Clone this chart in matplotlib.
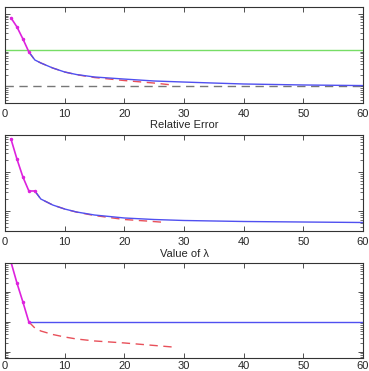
import numpy as np
import matplotlib.pyplot as plt

plt.rcParams['font.family'] = ['Liberation Sans', 'DejaVu Sans']

# --- panel 1 (error) ---
x1_init = [1, 2, 3, 4]
y1_init = [0.774, 0.435, 0.202, 0.088]
x1_blue = [4, 5, 6, 8, 10, 12, 15, 20, 25, 30, 35, 40, 50, 60]
y1_blue = [0.088, 0.0528, 0.0436, 0.0316, 0.0245, 0.0208, 0.0178, 0.0156,
           0.0138, 0.0129, 0.0121, 0.0114, 0.0107, 0.0103]
x1_red = [4, 5, 6, 8, 10, 12, 15, 20, 25, 28]
y1_red = [0.088, 0.0528, 0.0436, 0.0316, 0.0245, 0.0206, 0.0172, 0.0142,
          0.0121, 0.0107]
green_level = 0.1
target_level = 0.01

# --- panel 2 (relative error) ---
x2_init = [1, 2, 3, 4, 5]
y2_init = [7.02, 2.15, 0.745, 0.326, 0.326]
x2_blue = [5, 6, 8, 10, 12, 15, 20, 25, 30, 40, 50, 60]
y2_blue = [0.326, 0.203, 0.1425, 0.1125, 0.0943, 0.0789, 0.0662, 0.0605,
           0.0571, 0.0538, 0.0522, 0.0507]
x2_red = [5, 6, 8, 10, 12, 15, 20, 24, 27]
y2_red = [0.326, 0.203, 0.1425, 0.1125, 0.0935, 0.0765, 0.0605, 0.055, 0.0507]

# --- panel 3 (value of lambda) ---
x3_init = [1, 2, 3, 4]
y3_init = [1.0, 0.1995, 0.0464, 0.01]
x3_blue = [4, 60]
y3_blue = [0.01, 0.01]
x3_red = [4, 5, 6, 8, 10, 12, 15, 20, 25, 28]
y3_red = [0.01, 0.00631, 0.00501, 0.00383, 0.00316, 0.00271, 0.00233,
          0.002, 0.00165, 0.00147]

xticks = [0, 10, 20, 30, 40, 50, 60]

fig = plt.figure(figsize=(3.69, 3.71), dpi=100)
W, H = 369, 371
left, right = 5, 363
boxes = [(7, 103), (135, 231), (263, 358)]
ylims = [(10 ** -2.47, 10 ** 0.19), (0.0307, 8.89), (0.00063, 0.926)]
pads = [4.0, 4.0, 2.0]

axes = []
for (top, bot), yl, pd in zip(boxes, ylims, pads):
    ax = fig.add_axes([left / W, 1 - bot / H, (right - left) / W, (bot - top) / H])
    ax.set_yscale('log')
    ax.set_xlim(0, 60)
    ax.set_ylim(*yl)
    ax.set_xticks(xticks)
    ax.tick_params(which='both', direction='in', top=True, right=True,
                   labelsize=8, colors='#333333', labelcolor='#262626')
    ax.tick_params(which='major', length=3.5, width=0.6)
    ax.tick_params(which='minor', length=2, width=0.5)
    ax.tick_params(axis='y', which='both', labelleft=False)
    ax.tick_params(axis='x', pad=pd)
    for s in ax.spines.values():
        s.set_color('#333333')
        s.set_linewidth(0.8)
    axes.append(ax)

blue = '#5050f0'
red = '#e8505a'
mag = '#dd22dd'
dash = (0, (6, 4))

ax = axes[0]
ax.axhline(green_level, color='#77dd66', lw=1)
ax.axhline(target_level, color='#777777', lw=1, ls=dash)
ax.plot(x1_red, y1_red, color=red, lw=1, ls=dash)
ax.plot(x1_blue, y1_blue, color=blue, lw=1)
ax.plot(x1_init, y1_init, color=mag, lw=1.2, marker='.', ms=3)

ax = axes[1]
ax.plot(x2_red, y2_red, color=red, lw=1, ls=dash)
ax.plot(x2_blue, y2_blue, color=blue, lw=1)
ax.plot(x2_init, y2_init, color=mag, lw=1.2, marker='.', ms=3)

ax = axes[2]
ax.plot(x3_red, y3_red, color=red, lw=1, ls=dash)
ax.plot(x3_blue, y3_blue, color=blue, lw=1)
ax.plot(x3_init, y3_init, color=mag, lw=1.2, marker='.', ms=3)

fig.text(184 / W, 1 - 125 / H, 'Relative Error', ha='center', va='center',
         fontsize=8, color='#262626')
fig.text(184 / W, 1 - 254 / H, 'Value of λ', ha='center', va='center',
         fontsize=8, color='#262626')

fig.savefig('out.png', dpi=100)
